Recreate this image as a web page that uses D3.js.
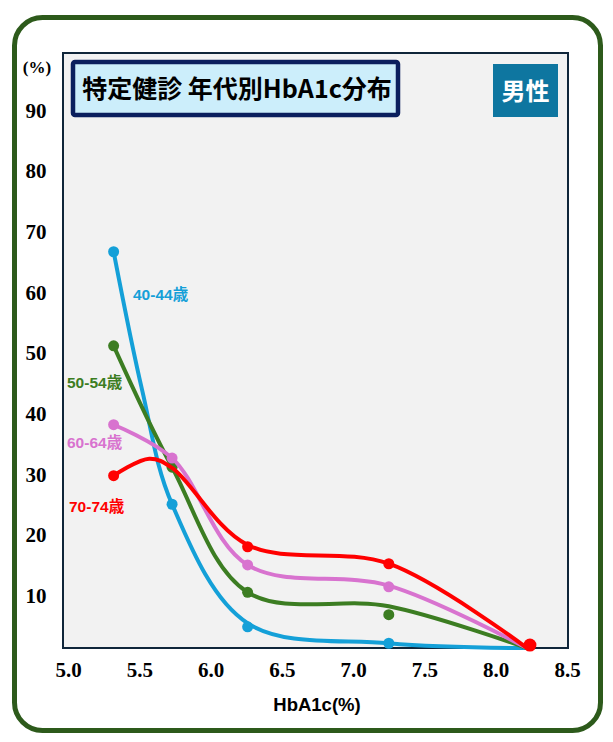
<!DOCTYPE html>
<html><head><meta charset="utf-8">
<script src="https://cdn.jsdelivr.net/npm/d3@7"></script>
<style>body{margin:0;background:#fff}</style>
</head><body><svg id="c" width="613" height="742"></svg>
<script>
// ---- data ----
const xTicks = [5.0, 5.5, 6.0, 6.5, 7.0, 7.5, 8.0, 8.5];
const yTicks = [10, 20, 30, 40, 50, 60, 70, 80, 90];
const seriesNames = ["40-44歳", "50-54歳", "60-64歳", "70-74歳"];
const markerX = [5.32, 5.73, 6.26, 7.25, 8.24];
const blueMarkers  = [66.6, 25.0, 4.8, 2.1, 1.8];
const greenMarkers = [51.1, 31.1, 10.5, 6.8, 1.8];
const pinkMarkers  = [38.1, 32.6, 15.0, 11.4, 1.8];
const redMarkers   = [29.7, null, 18.0, 15.2, 1.8];   // no marker shown at 5.73
// smoothed line paths (as drawn in the picture)
const lineX      = [5.32, 5.73, 6.26, 7.25, 8.22];
const blueLineX  = [5.32, 5.52, 5.73, 6.26, 7.25, 8.22];
const blueLine   = [66.6, 43.8, 25.0, 5.4, 2.1, 1.3];
const greenLine  = [51.1, 31.1, 10.5, 8.2, 1.3];
const pinkLine   = [38.1, 32.6, 15.0, 11.6, 1.3];
const redLineX   = [5.32, 5.57, 5.73, 6.26, 7.25, 8.22];
const redLine    = [29.7, 32.5, 31.0, 18.3, 15.2, 1.3];
const titleText = "特定健診 年代別HbA1c分布";
const genderText = "男性";
const xTitle = "HbA1c(%)";
const yUnit = "(%)";

// ---- layout ----
const svg = d3.select("#c");
const frame = {l: 63, r: 568, t: 53, b: 648};
const x = d3.scaleLinear().domain([5.0, 8.5]).range([68, 567]);
const y = d3.scaleLinear().domain([0, 100]).range([656, 49]);

// outer rounded border
svg.append("rect").attr("x", 14.5).attr("y", 17.5).attr("width", 586).attr("height", 713)
  .attr("rx", 28).attr("fill", "#fff").attr("stroke", "#2D5A1B").attr("stroke-width", 5);

// plot frame
svg.append("rect").attr("x", frame.l).attr("y", frame.t)
  .attr("width", frame.r - frame.l).attr("height", frame.b - frame.t)
  .attr("fill", "#F2F2F2").attr("stroke", "#10263A").attr("stroke-width", 2);

// y axis labels
const ya = svg.append("g").attr("transform", `translate(${frame.l},0)`)
  .call(d3.axisLeft(y).tickValues(yTicks).tickSize(0).tickFormat(d3.format("d")));
ya.select(".domain").remove();
ya.selectAll("text").attr("x", 36 - frame.l).attr("text-anchor", "middle").attr("dy", "0.35em")
  .attr("font-family", "'Liberation Serif', 'Times New Roman', serif").attr("font-weight", "bold")
  .attr("font-size", 21).attr("fill", "#000");
svg.append("text").attr("x", 37).attr("y", 67).attr("dy", "0.35em").attr("text-anchor", "middle")
  .attr("font-family", "'Liberation Serif', serif").attr("font-weight", "bold").attr("font-size", 17)
  .text(yUnit);

// x axis labels
const xa = svg.append("g").attr("transform", `translate(0,${frame.b})`)
  .call(d3.axisBottom(x).tickValues(xTicks).tickSize(0).tickFormat(d3.format(".1f")));
xa.select(".domain").remove();
xa.selectAll("text").attr("y", 22).attr("dy", "0.35em")
  .attr("font-family", "'Liberation Serif', 'Times New Roman', serif").attr("font-weight", "bold")
  .attr("font-size", 21).attr("fill", "#000");
svg.append("text").attr("x", 317).attr("y", 705).attr("dy", "0.35em").attr("text-anchor", "middle")
  .attr("font-family", "'Liberation Sans', Arial, sans-serif").attr("font-weight", "bold").attr("font-size", 18.5)
  .text(xTitle);

// title box
svg.append("rect").attr("x", 73).attr("y", 62).attr("width", 325).attr("height", 53).attr("rx", 2)
  .attr("fill", "#CCEEFB").attr("stroke", "#0B1F5E").attr("stroke-width", 4.5);
svg.append("text").attr("x", 237).attr("y", 89).attr("dy", "0.36em").attr("text-anchor", "middle")
  .attr("font-family", "'Noto Sans CJK JP', sans-serif").attr("font-weight", "bold").attr("font-size", 25)
  .attr("fill", "#000").text(titleText);

// gender box
svg.append("rect").attr("x", 493).attr("y", 64).attr("width", 65).attr("height", 53).attr("fill", "#0E76A0");
svg.append("text").attr("x", 525.5).attr("y", 91).attr("dy", "0.36em").attr("text-anchor", "middle")
  .attr("font-family", "'Noto Sans CJK JP', sans-serif").attr("font-weight", "bold").attr("font-size", 24)
  .attr("fill", "#fff").text(genderText);

// series
const series = [
  {name: seriesNames[0], color: "#14A0D8", lx: blueLineX, ly: blueLine, my: blueMarkers, labX: 133, labY: 294},
  {name: seriesNames[1], color: "#3C7D22", lx: lineX, ly: greenLine, my: greenMarkers, labX: 67, labY: 382},
  {name: seriesNames[2], color: "#D873CF", lx: lineX, ly: pinkLine, my: pinkMarkers, labX: 67, labY: 442},
  {name: seriesNames[3], color: "#FF0000", lx: redLineX, ly: redLine, my: redMarkers, labX: 69, labY: 506}
];
const line = d3.line().x(d => x(d[0])).y(d => y(d[1])).curve(d3.curveCatmullRom.alpha(0.5));
const g = svg.append("g");
series.forEach((s, si) => {
  g.append("path").datum(s.lx.map((v, i) => [v, s.ly[i]]))
    .attr("d", line).attr("fill", "none").attr("stroke", s.color).attr("stroke-width", 4)
    .attr("stroke-linecap", "round");
  g.selectAll(null).data(markerX.map((v, i) => [v, s.my[i]]).filter(d => d[1] != null)).enter().append("circle")
    .attr("cx", d => x(d[0])).attr("cy", d => y(d[1]))
    .attr("r", d => (si === 3 && d[0] === markerX[4]) ? 6.5 : 5.5).attr("fill", s.color);
  svg.append("text").attr("x", s.labX).attr("y", s.labY).attr("dy", "0.36em")
    .attr("font-family", "'Liberation Sans', 'Noto Sans CJK JP', sans-serif").attr("font-weight", "bold")
    .attr("font-size", 15.5).attr("fill", s.color).text(s.name);
});
</script>
</body></html>
